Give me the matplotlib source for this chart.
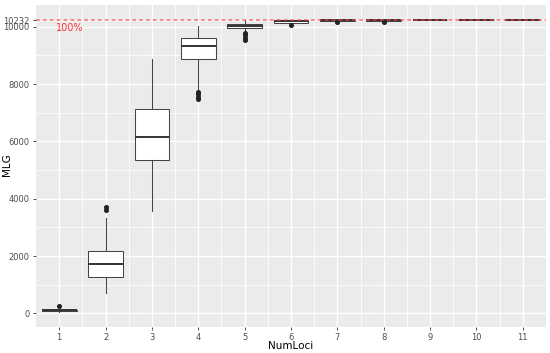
import matplotlib
matplotlib.use("Agg")
import matplotlib.pyplot as plt
from matplotlib.ticker import FixedLocator

# ---- data ----
num_loci = [1, 2, 3, 4, 5, 6, 7, 8, 9, 10, 11]
whislo = [60, 720, 3560, 7800, 9850, 10100, 10185, 10200, 10220, 10225, 10228]
q1 = [85, 1255, 5350, 8860, 9975, 10150, 10205, 10215, 10225, 10229, 10230]
med = [100, 1710, 6150, 9330, 10040, 10200, 10220, 10225, 10230, 10231, 10232]
q3 = [115, 2170, 7125, 9600, 10100, 10225, 10232, 10232, 10232, 10232, 10232]
whishi = [150, 3310, 8860, 10030, 10232, 10232, 10232, 10232, 10232, 10232, 10232]
fliers = [[250], [3610, 3720], [], [7480, 7560, 7640, 7720], [9550, 9620, 9700, 9780],
          [10060], [10160], [10170], [], [], []]
max_mlg = 10232
y_ticks = [0, 2000, 4000, 6000, 8000, 10000, 10232]
x_label = "NumLoci"
y_label = "MLG"
ref_label = "100%"

fig = plt.figure(figsize=(5.5, 3.53), dpi=100)
ax = fig.add_axes([36 / 550, 1 - 327 / 353, 510 / 550, 322 / 353])
ax.set_facecolor("#EBEBEB")
for s in ax.spines.values():
    s.set_visible(False)

stats = []
for i in range(len(num_loci)):
    stats.append(dict(whislo=whislo[i], q1=q1[i], med=med[i], q3=q3[i],
                      whishi=whishi[i], fliers=fliers[i]))

ax.bxp(stats, positions=num_loci, widths=0.75, patch_artist=True,
       showcaps=False,
       boxprops=dict(facecolor="white", edgecolor="#444444", linewidth=0.75),
       medianprops=dict(color="#333333", linewidth=1.4),
       whiskerprops=dict(color="#444444", linewidth=0.75),
       flierprops=dict(marker="o", markerfacecolor="#222222", markeredgecolor="#222222",
                       markersize=2.6),
       zorder=3)

ax.axhline(max_mlg, color="#FF4040", linestyle=(0, (2.5, 2)), linewidth=1.1, alpha=0.75, zorder=4)
ax.text(1.23, 9965, ref_label, color="#FF3030", fontsize=7, ha="center", va="center", zorder=5)

ax.set_xlim(0.5, 11.5)
ax.set_ylim(-478, 10761)
ax.set_xticks(num_loci)
ax.set_xticklabels([str(v) for v in num_loci])
ax.set_yticks(y_ticks)
ax.set_yticklabels([str(v) for v in y_ticks])
ax.xaxis.set_minor_locator(FixedLocator([v + 0.5 for v in num_loci[:-1]]))
ax.yaxis.set_minor_locator(FixedLocator([1000, 3000, 5000, 7000, 9000]))

ax.grid(which="major", color="white", linewidth=1.0, zorder=0)
ax.grid(which="minor", color="white", linewidth=0.55, zorder=0)
ax.set_axisbelow(True)

ax.tick_params(which="major", length=2.5, width=0.6, color="#333333",
               labelsize=6.0, labelcolor="#4D4D4D", pad=2)
ax.tick_params(which="minor", length=0)

ax.set_xlabel(x_label, fontsize=7.5, color="black", va="center")
ax.set_ylabel(y_label, fontsize=7.5, color="black", va="center")
ax.xaxis.set_label_coords(0.5, -0.059)
ax.yaxis.set_label_coords(-0.057, 0.503)

fig.savefig("out.png", dpi=100)
